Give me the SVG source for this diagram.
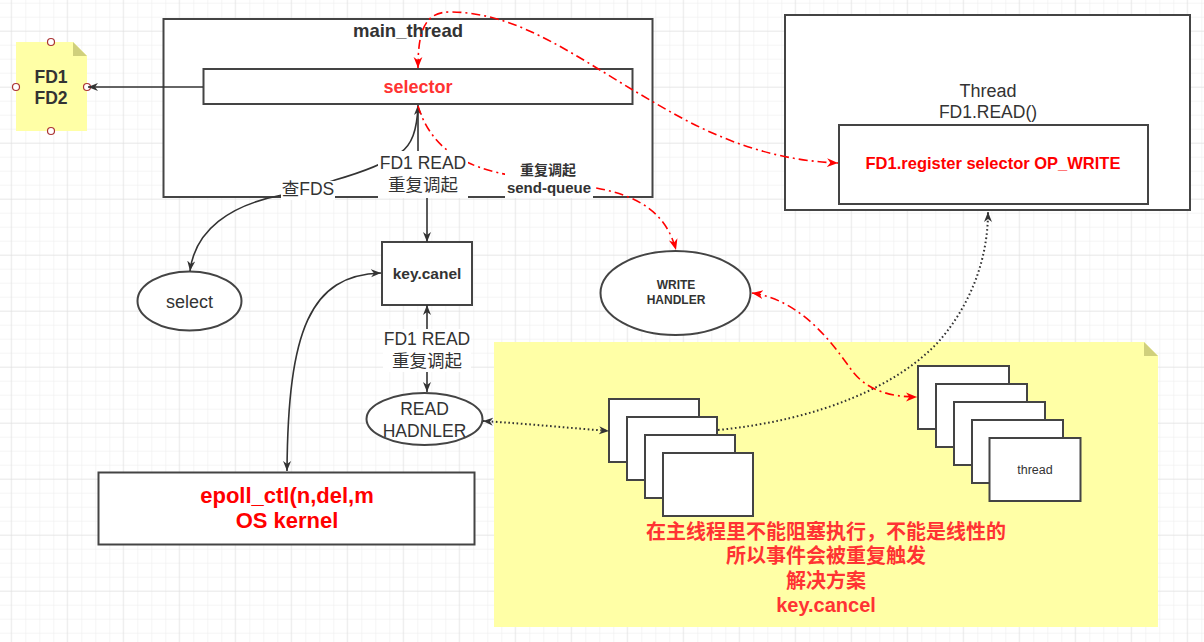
<svg xmlns="http://www.w3.org/2000/svg" width="1204" height="642" viewBox="0 0 1204 642">
<defs>
<pattern id="gmin" x="11.3" y="2.7" width="14" height="14" patternUnits="userSpaceOnUse"><path d="M0,0 H14 M0,0 V14" fill="none" stroke="#ebebeb" stroke-width="1"/></pattern>
<pattern id="gmaj" x="10.7" y="30.7" width="56" height="56" patternUnits="userSpaceOnUse"><path d="M0,0 H56 M0,0 V56" fill="none" stroke="#dedede" stroke-width="1"/></pattern>
<marker id="ab" viewBox="0 0 10 10" refX="10" refY="5" markerWidth="10" markerHeight="10" markerUnits="userSpaceOnUse" orient="auto-start-reverse"><path d="M0,1 L10,5 L0,9 L3,5 z" fill="#333"/></marker>
<marker id="ar" viewBox="0 0 10 10" refX="10" refY="5" markerWidth="11" markerHeight="11" markerUnits="userSpaceOnUse" orient="auto-start-reverse"><path d="M0,1 L10,5 L0,9 L3,5 z" fill="#ff0000"/></marker>
</defs>
<style>
text{font-family:"Liberation Sans","Noto Sans CJK SC",sans-serif;fill:#333;text-anchor:middle}
.b{font-weight:bold}
.box{fill:#fff;stroke:#444;stroke-width:2}
.note{fill:#ffffa6}
.fold{fill:#d0d07c}
.edge{fill:none;stroke:#333;stroke-width:1.6}
.dot{fill:none;stroke:#333;stroke-width:2;stroke-dasharray:1.6 2.6}
.red{fill:none;stroke:#ff0000;stroke-width:1.6;stroke-dasharray:9 4 2 4}
.lbl{fill:#fff}
.pt{fill:#fff;stroke:#a33;stroke-width:1.2}
</style>
<rect width="1204" height="642" fill="#fff"/>
<rect width="1204" height="642" fill="url(#gmin)"/>
<rect width="1204" height="642" fill="url(#gmaj)"/>

<g id="note-fd">
<path class="note" d="M16,42 H73 L87,56 V131 H16 z"/>
<path class="fold" d="M73,42 L87,56 H73 z"/>
<text class="b" x="51" y="83" font-size="17.5">FD1</text>
<text class="b" x="51" y="104" font-size="17.5">FD2</text>
<circle class="pt" cx="51" cy="42" r="3.5"/>
<circle class="pt" cx="16" cy="87" r="3.5"/>
<circle class="pt" cx="87" cy="87" r="3.5"/>
<circle class="pt" cx="51" cy="131" r="3.5"/>
</g>

<g id="main-thread">
<rect class="box" x="163.5" y="19" width="489" height="178" fill="none"/>
<text class="b" x="408" y="37" font-size="18.5">main_thread</text>
</g>

<g id="selector">
<rect class="box" x="203.5" y="69" width="429" height="35"/>
<text class="b" x="418" y="93" font-size="18" style="fill:#ff3333">selector</text>
</g>

<g id="thread-box">
<rect class="box" x="785" y="15" width="405" height="195"/>
<text x="988" y="97" font-size="18">Thread</text>
<text x="988" y="118" font-size="17.5">FD1.READ()</text>
</g>

<g id="register">
<rect class="box" x="839" y="125" width="309" height="79"/>
<text class="b" x="993" y="169" font-size="16.5" style="fill:#ff0000">FD1.register selector OP_WRITE</text>
</g>

<g id="key-canel">
<rect class="box" x="382" y="242" width="90" height="63"/>
<text class="b" x="427" y="279" font-size="15.5">key.canel</text>
</g>

<g id="select">
<ellipse class="box" cx="189.5" cy="301" rx="52" ry="29.5"/>
<text x="189.5" y="308" font-size="18">select</text>
</g>

<g id="write-handler">
<ellipse class="box" cx="675.5" cy="293" rx="75" ry="42"/>
<text class="b" x="676" y="289" font-size="12">WRITE</text>
<text class="b" x="676" y="304" font-size="12">HANDLER</text>
</g>

<g id="read-handler">
<ellipse class="box" cx="424.5" cy="419" rx="58" ry="26"/>
<text x="424.5" y="415" font-size="17.5">READ</text>
<text x="424.5" y="437" font-size="17.5">HADNLER</text>
</g>

<g id="epoll">
<rect class="box" x="98.5" y="472.5" width="376" height="72"/>
<text class="b" x="287" y="503" font-size="22" style="fill:#ff0000">epoll_ctl(n,del,m</text>
<text class="b" x="287" y="528" font-size="22" style="fill:#ff0000">OS kernel</text>
</g>

<g id="big-note">
<path class="note" d="M494,342 H1144 L1158,356 V627 H494 z"/>
<path class="fold" d="M1144,342 L1158,356 H1144 z"/>
<text class="b" x="826" y="539" font-size="20" style="fill:#ff3333">在主线程里不能阻塞执行，不能是线性的</text>
<text class="b" x="826" y="563" font-size="20" style="fill:#ff3333">所以事件会被重复触发</text>
<text class="b" x="826" y="588" font-size="20" style="fill:#ff3333">解决方案</text>
<text class="b" x="826" y="612" font-size="20" style="fill:#ff3333">key.cancel</text>
</g>

<g id="stack-left">
<rect class="box" x="609" y="399" width="90" height="63"/>
<rect class="box" x="627" y="417" width="90" height="63"/>
<rect class="box" x="645" y="435" width="90" height="63"/>
<rect class="box" x="663" y="453" width="90" height="63"/>
</g>

<g id="stack-right">
<rect class="box" x="918" y="366" width="91" height="63"/>
<rect class="box" x="936" y="384" width="91" height="63"/>
<rect class="box" x="954" y="402" width="91" height="63"/>
<rect class="box" x="972" y="420" width="91" height="63"/>
<rect class="box" x="989.5" y="438" width="91" height="63"/>
<text x="1035" y="474" font-size="12.5">thread</text>
</g>

<g id="connectors">
<path class="edge" d="M203,87 H88" marker-end="url(#ab)"/>
<path class="edge" d="M418,106 C417,130 412,145 400,153 C390,160 370,170 335,180 C310,188 300,192 282,195 C230,205 195,230 190,271" marker-end="url(#ab)"/>
<path class="edge" d="M418,105 V168 H427 V242" marker-start="url(#ab)" marker-end="url(#ab)"/>
<path class="edge" d="M427,305 V392" marker-start="url(#ab)" marker-end="url(#ab)"/>
<path class="edge" d="M287,471 C288,330 310,275 381,273" marker-start="url(#ab)" marker-end="url(#ab)"/>
<path class="dot" d="M483,421 C530,424 570,428 609,431" marker-start="url(#ab)" marker-end="url(#ab)"/>
<path class="dot" d="M718,430 C820,420 900,385 940,340 C970,305 988,260 988,212" marker-end="url(#ab)"/>
<path class="red" d="M418,106 C435,160 480,172 540,180 S660,190 676,250" marker-end="url(#ar)"/>
<path class="red" d="M418,68 C418,30 425,12 450,12 C520,12 580,60 650,100 C700,130 760,160 838,163" marker-start="url(#ar)" marker-end="url(#ar)"/>
<path class="red" d="M752,293 C800,300 830,340 850,368 C865,390 890,397 917,397" marker-start="url(#ar)" marker-end="url(#ar)"/>
<rect class="lbl" x="281" y="181" width="54" height="19"/>
<text x="308" y="195" font-size="17.5">查FDS</text>
<rect class="lbl" x="378" y="151" width="90" height="47"/>
<text x="423" y="169" font-size="17.5">FD1 READ</text>
<text x="423" y="191" font-size="17.5">重复调起</text>
<rect class="lbl" x="505" y="161" width="88" height="37"/>
<text class="b" x="548" y="175" font-size="14">重复调起</text>
<text class="b" x="549" y="193" font-size="15">send-queue</text>
<rect class="lbl" x="383" y="329" width="88" height="43"/>
<text x="427" y="345" font-size="17.5">FD1 READ</text>
<text x="427" y="367" font-size="17.5">重复调起</text>
</g>
</svg>
